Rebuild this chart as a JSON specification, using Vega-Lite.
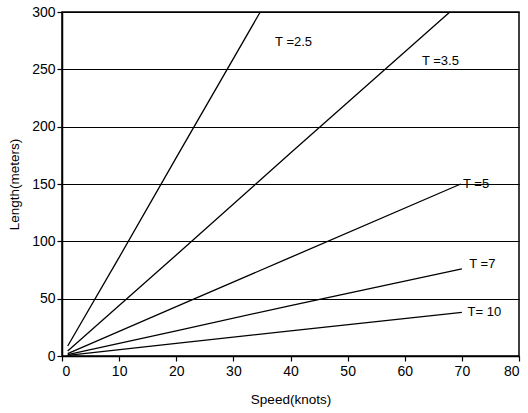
{
  "$schema": "https://vega.github.io/schema/vega-lite/v6.json",
  "autosize": "none",
  "width": 457,
  "height": 344,
  "padding": {"left": 62, "top": 12, "right": 9, "bottom": 57},
  "background": "white",
  "config": {
    "view": {"stroke": "black", "strokeWidth": 1.5},
    "font": "Liberation Sans",
    "axis": {
      "domainColor": "black", "tickColor": "black", "labelColor": "black", "titleColor": "black",
      "labelFontSize": 14, "titleFontSize": 13.5, "titleFontWeight": "normal", "tickSize": 5, "domainWidth": 1.5, "tickWidth": 1.2
    }
  },
  "datasets": {
    "lines": [
      {"T": "2.5", "speed": 1, "length": 8.7},
      {"T": "2.5", "speed": 10, "length": 86},
      {"T": "2.5", "speed": 20, "length": 173},
      {"T": "2.5", "speed": 34.7, "length": 300},
      {"T": "3.5", "speed": 1, "length": 4.4},
      {"T": "3.5", "speed": 20, "length": 88},
      {"T": "3.5", "speed": 40, "length": 177},
      {"T": "3.5", "speed": 67.9, "length": 300},
      {"T": "5", "speed": 1, "length": 2.1},
      {"T": "5", "speed": 20, "length": 43},
      {"T": "5", "speed": 40, "length": 86},
      {"T": "5", "speed": 69.8, "length": 150},
      {"T": "7", "speed": 1, "length": 1.1},
      {"T": "7", "speed": 20, "length": 22},
      {"T": "7", "speed": 40, "length": 44},
      {"T": "7", "speed": 70, "length": 76},
      {"T": "10", "speed": 1, "length": 0.55},
      {"T": "10", "speed": 20, "length": 11},
      {"T": "10", "speed": 40, "length": 22},
      {"T": "10", "speed": 70, "length": 38}
    ],
    "labels": [
      {"text": "T =2.5", "speed": 37.3, "length": 274},
      {"text": "T =3.5", "speed": 63, "length": 257},
      {"text": "T =5", "speed": 70.2, "length": 150},
      {"text": "T =7", "speed": 71.3, "length": 80},
      {"text": "T= 10", "speed": 71, "length": 38}
    ]
  },
  "layer": [
    {
      "data": {"name": "lines"},
      "mark": {"type": "line", "color": "black", "strokeWidth": 1.3},
      "encoding": {
        "x": {
          "field": "speed", "type": "quantitative",
          "scale": {"domain": [0, 80], "nice": false},
          "axis": {"title": "Speed(knots)", "values": [0,10,20,30,40,50,60,70,80], "grid": false, "titlePadding": 14, "labelPadding": 3}
        },
        "y": {
          "field": "length", "type": "quantitative",
          "scale": {"domain": [0, 300], "nice": false},
          "axis": {"title": "Length(meters)", "values": [0,50,100,150,200,250,300], "grid": true, "gridColor": "black", "gridOpacity": 1, "gridWidth": 1.2, "titlePadding": 10, "labelPadding": 2}
        },
        "detail": {"field": "T", "type": "nominal"}
      }
    },
    {
      "data": {"name": "labels"},
      "mark": {"type": "text", "align": "left", "baseline": "middle", "fontSize": 13, "color": "black"},
      "encoding": {
        "x": {"field": "speed", "type": "quantitative"},
        "y": {"field": "length", "type": "quantitative"},
        "text": {"field": "text"}
      }
    }
  ]
}
